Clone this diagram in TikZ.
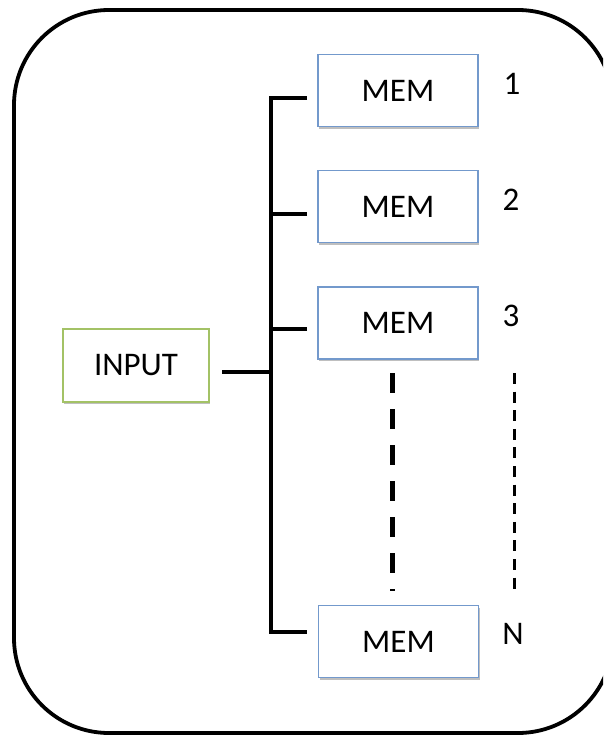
\documentclass[tikz,border=0pt]{standalone}
\usepackage{fontspec}
\setmainfont{Carlito}
\usetikzlibrary{shadows}
\definecolor{memblue}{HTML}{7399CC}
\definecolor{ingreen}{HTML}{A3C266}
\begin{document}
\begin{tikzpicture}[x=1pt,y=-1pt,
  lbl/.style={font=\fontsize{33}{38}\selectfont, inner sep=0pt},
  boxbase/.style={draw, line width=1.3pt, fill=white, lbl,
    drop shadow={shadow xshift=1.2pt, shadow yshift=-2pt, opacity=0.25, fill=black}},
  membox/.style={boxbase, draw=memblue, minimum width=160pt, minimum height=72pt},
  inbox/.style={boxbase, draw=ingreen, minimum width=146pt, minimum height=73pt},
  bus/.style={line width=4.5pt, line join=miter, line cap=butt},
  frame/.style={line width=3.8pt, rounded corners=95pt}]
  \useasboundingbox (0,0) rectangle (603,736);
  \clip (0,0) rectangle (603,736);

  % outer frame (right side runs past the page edge)
  \draw[frame] (14,10) rectangle (613,733);

  % boxes
  \node[inbox]  (in) at (136,365.5) {INPUT};
  \node[membox] (m1) at (398,90.5)  {MEM};
  \node[membox] (m2) at (398,206.5) {MEM};
  \node[membox] (m3) at (398,323)   {MEM};
  \node[membox] (mN) at (398.5,641.5) {MEM};

  % indices
  \node[lbl] (l1) at (512,84)  {1};
  \node[lbl] (l2) at (511,200) {2};
  \node[lbl] (l3) at (511,316) {3};
  \node[lbl] (lN) at (513,634) {N};

  % bus connecting the input to the memories
  \coordinate (bx) at (271,0);
  \coordinate (t1) at (307,98);
  \coordinate (t2) at (307,214);
  \coordinate (t3) at (307,329);
  \coordinate (tN) at (307,632);
  \coordinate (ti) at (222,372);
  \draw[bus] (t1) -- (t1 -| bx) -- (tN -| bx) -- (tN);
  \draw[bus] (t2) -- (t2 -| bx);
  \draw[bus] (t3) -- (t3 -| bx);
  \draw[bus] (ti) -- (ti -| bx);

  % ellipsis between memory 3 and memory N
  \coordinate (da) at (392,373);
  \coordinate (db) at (392,591);
  \draw[line width=5pt, dash pattern=on 20pt off 16pt] (da) -- (db);
  \coordinate (ea) at (514,373);
  \coordinate (eb) at (514,590);
  \draw[line width=3pt, dash pattern=on 11pt off 7.6pt] (ea) -- (eb);
\end{tikzpicture}
\end{document}
